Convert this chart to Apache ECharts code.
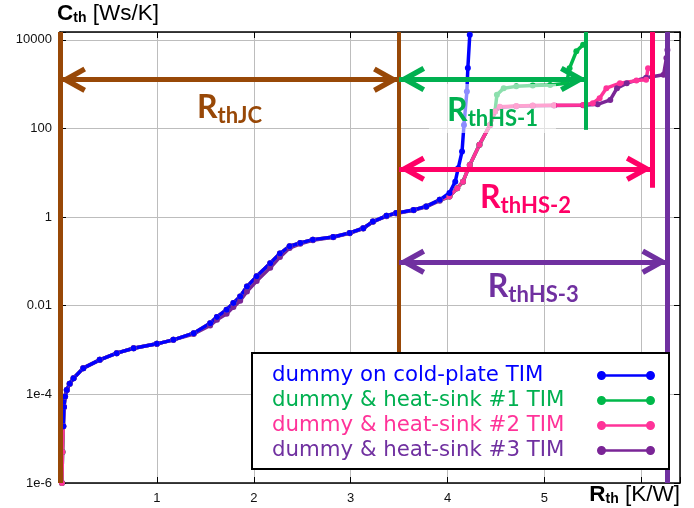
<!DOCTYPE html>
<html>
<head>
<meta charset="utf-8">
<script src="https://cdn.jsdelivr.net/npm/echarts@6/dist/echarts.min.js"></script>
<style>html,body{margin:0;padding:0;background:#fff}#c{width:694px;height:508px}</style>
</head>
<body>
<div id="c"></div>
<script>
// ---- data (Rth in K/W, Cth in Ws/K) ----
const rthBase = [0.020, 0.026, 0.034, 0.041, 0.052, 0.07, 0.10, 0.14, 0.24, 0.41, 0.585, 0.76, 1.00, 1.17, 1.38, 1.55, 1.62, 1.72, 1.79, 1.86, 1.93, 2.03, 2.17, 2.27, 2.37, 2.48, 2.61, 2.82, 2.99, 3.13, 3.23, 3.37, 3.47, 3.65, 3.78, 3.92];
const cthBase = [1e-6, 5e-6, 1.9e-5, 5.2e-5, 8.9e-5, 1.26e-4, 1.74e-4, 2.3e-4, 3.9e-4, 6.0e-4, 8.5e-4, 1.1e-3, 1.38e-3, 1.7e-3, 2.4e-3, 4.0e-3, 5.6e-3, 8.1e-3, 0.0115, 0.0162, 0.027, 0.046, 0.091, 0.15, 0.22, 0.26, 0.31, 0.355, 0.44, 0.56, 0.79, 1.07, 1.23, 1.45, 1.74, 2.45];
const cthPurpleBase = [1e-6, 5e-6, 1.9e-5, 5.2e-5, 8.9e-5, 1.26e-4, 1.74e-4, 2.3e-4, 3.9e-4, 6.0e-4, 8.5e-4, 1.1e-3, 1.38e-3, 1.7e-3, 2.3e-3, 3.6e-3, 4.8e-3, 6.6e-3, 9.3e-3, 0.013, 0.021, 0.036, 0.072, 0.125, 0.20, 0.25, 0.30, 0.35, 0.43, 0.55, 0.78, 1.05, 1.21, 1.42, 1.70, 2.35];

const rthBlueTail = [4.02, 4.08, 4.11, 4.15, 4.17, 4.20, 4.21, 4.23];
const cthBlueTail = [3.5, 6.3, 12.6, 30, 120, 680, 2300, 13000];

const rthHsRise = [4.02, 4.10, 4.16, 4.23, 4.33, 4.44, 4.49];
const cthHsRise = [2.9, 4.5, 6.3, 15, 43, 120, 240];

const rthHs1Tail = [4.51, 4.58, 4.71, 4.88, 5.06, 5.23, 5.26, 5.33, 5.40];
const cthHs1Tail = [575, 810, 890, 930, 955, 1050, 2290, 5500, 7760];

const rthHs2Tail = [4.54, 4.71, 4.88, 5.10, 5.40, 5.50, 5.57, 5.64, 5.78, 5.95, 6.05, 6.07];
const cthHs2Tail = [310, 320, 330, 335, 340, 370, 480, 810, 1050, 1200, 1260, 2290];

const rthHs3Tail = [4.54, 4.71, 4.88, 5.10, 5.40, 5.55, 5.68, 5.75, 5.85, 6.05, 6.23, 6.26, 6.27];
const cthHs3Tail = [300, 315, 325, 330, 335, 350, 440, 810, 1050, 1400, 1620, 3900, 5900];

const seriesNames = ['dummy on cold-plate TIM', 'dummy & heat-sink #1 TIM', 'dummy & heat-sink #2 TIM', 'dummy & heat-sink #3 TIM'];
const seriesColors = ['#0000ff', '#00b84a', '#ff3399', '#7a2596'];
const legendTextColors = ['#0000ff', '#00b050', '#ff3399', '#7030a0'];

const xTickLabels = ['', '1', '2', '3', '4', '5', ''];
const yTickLabels = ['1e-6', '1e-4', '0.01', '1', '100', '10000'];

// annotation positions (Rth values of the boundaries, Cth heights of arrows)
const rthBounds = { jc: 3.5, hs1: 5.43, hs2: 6.11, hs3: 6.27 };
const arrowHeights = { jc: 1260, hs1: 1300, hs2: 12.3, hs3: 0.098 };
const lineBottoms = { jc0: 1e-6, jc: 1e-5, hs1: 93, hs2: 4.6, hs3: 1e-6 };
const annoColors = { brown: '#984807', green: '#00b050', pink: '#ff0066', purple: '#7030a0' };

const xMin = 0, xMax = 6.4, yMin = 1e-6, yMax = 15000;

// ---- build chart ----
function pairs(xs, ys) { return xs.map((x, i) => [x, ys[i]]); }

const blueData = pairs(rthBase.slice(2).concat(rthBlueTail), cthBase.slice(2).concat(cthBlueTail));
const hs1Data = pairs(rthBase.concat(rthHsRise, rthHs1Tail), cthBase.concat(cthHsRise, cthHs1Tail));
const hs2Data = pairs(rthBase.concat(rthHsRise, rthHs2Tail), cthBase.concat(cthHsRise, cthHs2Tail));
const hs3Data = pairs(rthBase.concat(rthHsRise, rthHs3Tail), cthPurpleBase.concat(cthHsRise, cthHs3Tail));

const chevron = 'path://M50,-100L50.4,-100L50,-99.6Z M50,0L100,90L82,100L50,43L18,100L0,90Z';
const font = 'Liberation Sans';

function vline(x, y0, color, width) {
  return [{ coord: [x, y0], lineStyle: { color: color, width: width, type: 'solid' }, symbol: 'none' },
          { coord: [x, yMax], symbol: 'none' }];
}
function arrow(x0, x1, y, color, sub, distance, extra) {
  const label = Object.assign({
    show: true, position: 'insideMiddleBottom', distance: distance,
    formatter: '{r|R}{s|' + sub + '}',
    rich: {
      r: { fontSize: 32, lineHeight: 40, fontWeight: 'bold', fontFamily: 'Lato', color: color },
      s: { fontSize: 22, lineHeight: 22, fontWeight: 'bold', fontFamily: 'Lato', color: color, verticalAlign: 'top', padding: [17, 0, 0, 0] }
    }
  }, extra || {});
  return [{ coord: [x0, y], symbol: chevron, symbolSize: [26, 52], itemStyle: { color: color },
            lineStyle: { color: color, width: 5, type: 'solid' }, label: label },
          { coord: [x1, y], symbol: chevron, symbolSize: [26, 52], itemStyle: { color: color } }];
}

function curve(i, data, z) {
  return {
    name: seriesNames[i], type: 'line', data: data, z: z,
    symbol: 'circle', symbolSize: 6, showSymbol: true,
    lineStyle: { width: 3.5, color: seriesColors[i] },
    itemStyle: { color: seriesColors[i] },
    emphasis: { disabled: true }, animation: false
  };
}

const titleRich = {
  b: { fontSize: 22.5, fontWeight: 'bold', fontFamily: font, lineHeight: 26, verticalAlign: 'bottom' },
  s: { fontSize: 14, fontWeight: 'bold', fontFamily: font, lineHeight: 17, verticalAlign: 'bottom' },
  n: { fontSize: 22.5, fontFamily: font, lineHeight: 26, verticalAlign: 'bottom' }
};

const chart = echarts.init(document.getElementById('c'), null, { renderer: 'canvas' });
const option = {
  animation: false,
  backgroundColor: '#fff',
  grid: { left: 60, right: 14, top: 32, bottom: 25, containLabel: false },
  xAxis: [{
    type: 'value', min: xMin, max: xMax, interval: 1,
    axisLine: { show: true, onZero: false, lineStyle: { color: '#000', width: 1.5 } },
    axisTick: { show: true, inside: true, length: 6, lineStyle: { color: '#000' } },
    axisLabel: { color: '#111', fontSize: 13, fontFamily: font, margin: 9,
      formatter: v => (Number.isInteger(v) && xTickLabels[v] !== undefined) ? xTickLabels[v] : '' },
    splitLine: { show: true, lineStyle: { color: '#bdbdbd', width: 1 } }
  }, {
    type: 'value', position: 'top', min: xMin, max: xMax, interval: 1,
    axisLine: { show: true, onZero: false, lineStyle: { color: '#000', width: 1.5 } },
    axisTick: { show: true, inside: true, length: 6, lineStyle: { color: '#000' } },
    axisLabel: { show: false }, splitLine: { show: false }
  }],
  yAxis: [{
    type: 'log', logBase: 10, min: yMin, max: yMax, interval: 2,
    axisLine: { show: true, onZero: false, lineStyle: { color: '#000', width: 1.5 } },
    axisTick: { show: true, inside: true, length: 6, lineStyle: { color: '#000' } },
    minorTick: { show: false },
    axisLabel: { color: '#111', fontSize: 13, fontFamily: font, margin: 8,
      formatter: v => {
        const l = Math.log10(v), e = Math.round(l);
        if (Math.abs(l - e) > 1e-6 || (e % 2) !== 0) return '';
        const t = yTickLabels[(e + 6) / 2];
        return t === undefined ? '' : t;
      } },
    splitLine: { show: true, lineStyle: { color: '#bdbdbd', width: 1 } }
  }, {
    type: 'log', logBase: 10, position: 'right', min: yMin, max: yMax, interval: 2,
    axisLine: { show: true, onZero: false, lineStyle: { color: '#000', width: 1.5 } },
    axisTick: { show: true, inside: true, length: 6, lineStyle: { color: '#000' } },
    axisLabel: { show: false }, splitLine: { show: false }, minorTick: { show: false }
  }],
  legend: {
    orient: 'vertical', left: 252, top: 353, z: 20,
    padding: [10, 14, 6, 20], itemGap: 0, itemWidth: 58, itemHeight: 9,
    align: 'right',
    icon: 'path://M8,3.3H50V5.7H8Z M0,4.5a4.5,4.5 0 1,1 9,0a4.5,4.5 0 1,1 -9,0Z M49,4.5a4.5,4.5 0 1,1 9,0a4.5,4.5 0 1,1 -9,0Z',
    itemStyle: { borderWidth: 0 },
    backgroundColor: '#fff', borderColor: '#000', borderWidth: 2, borderRadius: 0,
    selectedMode: false,
    formatter: name => '{t|' + name + '}',
    textStyle: { fontSize: 21.3, fontFamily: 'DejaVu Sans', lineHeight: 25,
      rich: { t: { fontSize: 21.3, fontFamily: 'DejaVu Sans', lineHeight: 25, width: 320, align: 'left' } } },
    data: seriesNames.map((n, i) => ({ name: n, textStyle: { color: legendTextColors[i] } }))
  },
  graphic: [
    { type: 'text', left: 57, top: 2, z: 10,
      style: { text: '{b|C}{s|th}{n| [Ws/K]}', fill: '#000', rich: titleRich } },
    { type: 'text', right: 14, top: 483, z: 10,
      style: { text: '{b|R}{s|th}{n| [K/W]}', fill: '#000', rich: titleRich } }
  ],
  series: [
    curve(3, hs3Data, 2),
    curve(1, hs1Data, 2),
    curve(2, hs2Data, 2),
    curve(0, blueData, 2),
    {
      name: 'annotations', type: 'line', data: [], z: 3, silent: true, color: '#984807',
      markLine: {
        silent: true, animation: false, symbol: ['none', 'none'],
        label: { show: false },
        lineStyle: { type: 'solid' },
        emphasis: { disabled: true },
        data: [
          vline(0, lineBottoms.jc0, annoColors.brown, 5),
          vline(rthBounds.jc, lineBottoms.jc, annoColors.brown, 4),
          vline(rthBounds.hs1, lineBottoms.hs1, annoColors.green, 4),
          vline(rthBounds.hs2, lineBottoms.hs2, annoColors.pink, 5),
          vline(rthBounds.hs3, lineBottoms.hs3, annoColors.purple, 5),
          arrow(0, rthBounds.jc, arrowHeights.jc, annoColors.brown, 'thJC', 8),
          arrow(rthBounds.jc, rthBounds.hs1, arrowHeights.hs1, annoColors.green, 'thHS-1', 5,
                { backgroundColor: 'rgba(255,255,255,0.55)', padding: [7, 18, 2, 18] }),
          arrow(rthBounds.jc, rthBounds.hs2, arrowHeights.hs2, annoColors.pink, 'thHS-2', 9),
          arrow(rthBounds.jc, rthBounds.hs3, arrowHeights.hs3, annoColors.purple, 'thHS-3', 5)
        ]
      }
    }
  ]
};
chart.setOption(option);
</script>
</body>
</html>
